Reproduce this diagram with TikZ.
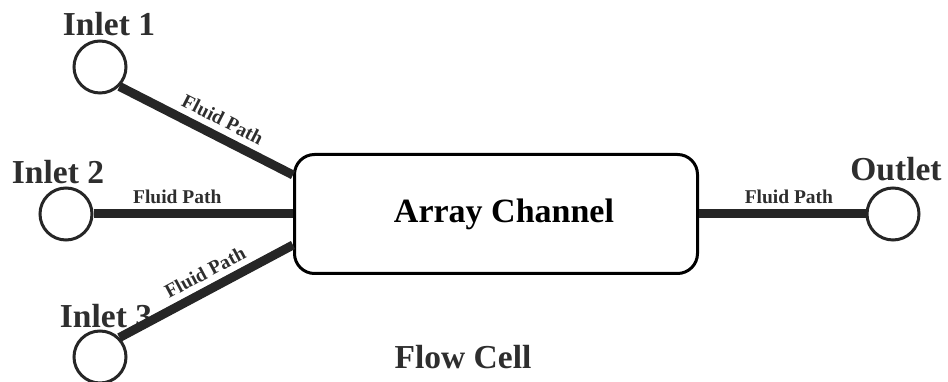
\documentclass[tikz,border=0pt]{standalone}
\usepackage{fontspec}
\setmainfont{Liberation Serif}
\usepackage{tikz}
\usetikzlibrary{positioning}
\definecolor{pipegray}{HTML}{262626}
\definecolor{labelgray}{HTML}{2E2E2E}

\begin{document}
\begin{tikzpicture}[x=1pt, y=1pt,
    port/.style={circle, draw=pipegray, line width=3pt, minimum size=52pt, inner sep=0},
    portname/.style={inner sep=0, text=labelgray, font=\fontsize{33.5}{36}\selectfont\bfseries},
    chamber/.style={draw=black, line width=3pt, rounded corners=20pt, minimum width=403pt, minimum height=119pt, font=\fontsize{34}{36}\selectfont\bfseries},
    fluid/.style={draw=pipegray, line width=9pt},
    flowtag/.style={sloped, above=5pt, inner sep=1pt, text=labelgray, font=\fontsize{19.5}{21}\selectfont\bfseries}]
    \useasboundingbox (0,0) rectangle (948,382);

    \node(channel)[chamber] at (496,168) {\hspace*{16pt}Array Channel};
    \node(in1)[port] at (100,315) {};
    \node(in2)[port] at (66,168) {};
    \node(in3)[port] at (100,25) {};
    \node(out)[port] at (893,168) {};

    \node(in1-name)[portname, above=3pt of in1, xshift=9pt] {Inlet 1};
    \node(in2-name)[portname, above=2pt of in2, xshift=-8pt] {Inlet 2};
    \node(in3-name)[portname, above=1.5pt of in3, xshift=6pt] {Inlet 3};
    \node(out-name)[portname, above=5pt of out, xshift=3pt] {Outlet};
    \node(cell)[portname, below=70pt of channel, xshift=-33pt] {Flow Cell};

    % pipes into and out of the channel
    \draw[fluid] (in1.south east) -- node[flowtag, pos=.55] {Fluid Path} ([yshift=39pt]channel.west);
    \draw[fluid] (in2.east) -- node[flowtag, pos=.42] {Fluid Path} (channel.west);
    \draw[fluid] (in3.north east) -- node[flowtag, pos=.54] {Fluid Path} ([yshift=-31pt]channel.west);
    \draw[fluid] (channel.east) -- node[flowtag, pos=.54] {Fluid Path} (out.west);
\end{tikzpicture}
\end{document}
